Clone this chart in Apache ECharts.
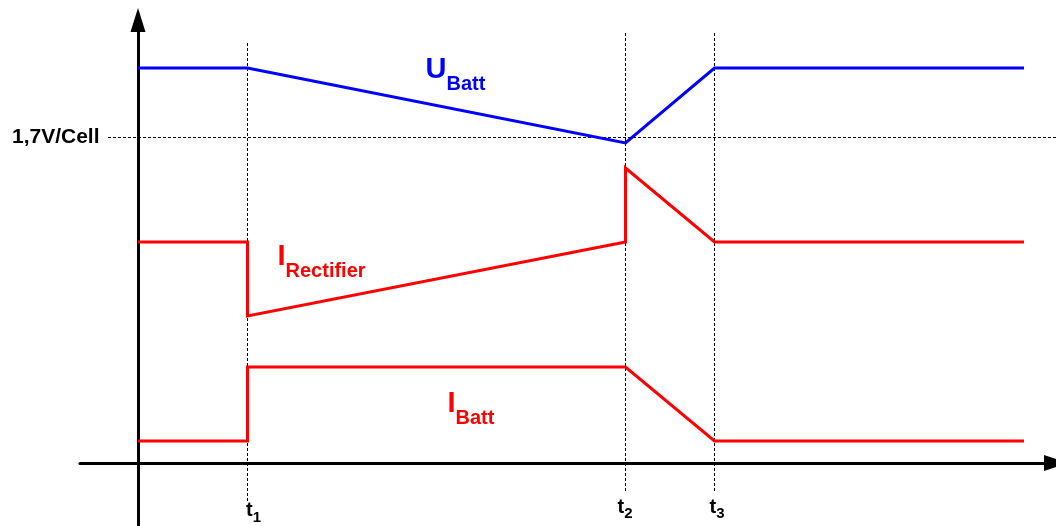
<!DOCTYPE html>
<html>
<head>
<meta charset="utf-8">
<script src="https://cdn.jsdelivr.net/npm/echarts@6/dist/echarts.min.js"></script>
<style>
html, body { margin: 0; padding: 0; background: #fff; }
#container { width: 1056px; height: 526px; }
</style>
</head>
<body>
<div id="container"></div>
<script>
// time marks t1, t2, t3 and the dashed guide lines
var timeMarks = [1.095, 4.875, 5.765];
var markTop = [4.20, 4.30, 4.30];
var markBottom = [-0.39, -0.29, -0.29];
var markNames = ['1', '2', '3'];
var cellLimit = 3.255;
var cellLimitText = '1,7V/Cell';

// curves [time, level]
var uBatt = [[0, 3.95], [1.095, 3.95], [4.875, 3.20], [5.765, 3.95], [8.86, 3.95]];
var iRectifier = [[0, 2.21], [1.095, 2.21], [1.095, 1.47], [4.875, 2.21], [4.875, 2.95], [5.765, 2.21], [8.86, 2.21]];
var iBatt = [[0, 0.22], [1.095, 0.22], [1.095, 0.96], [4.875, 0.96], [5.765, 0.22], [8.86, 0.22]];

var font = 'Liberation Sans, Arial, sans-serif';
var dom = document.getElementById('container');
var myChart = echarts.init(dom, null, { renderer: 'canvas' });

var dashed = { color: '#000', width: 1, type: [3, 2] };
var guideSeries = timeMarks.map(function (t, i) {
  return {
    type: 'line', symbol: 'none', silent: true, z: 1,
    lineStyle: dashed,
    data: [[t, markTop[i]], [t, markBottom[i]]]
  };
});
guideSeries.push({
  type: 'line', symbol: 'none', silent: true, z: 1,
  lineStyle: dashed,
  data: [[-0.30, cellLimit], [9.18, cellLimit]]
});

function curve(data, color) {
  return {
    type: 'line', symbol: 'none', z: 3,
    lineStyle: { color: color, width: 3, join: 'miter' },
    data: data
  };
}

function richFor(color) {
  return {
    big: { color: color, fontFamily: font, fontSize: 29, fontWeight: 'bold', lineHeight: 30 },
    sub: { color: color, fontFamily: font, fontSize: 20, fontWeight: 'bold', lineHeight: 20, padding: [28, 0, 0, 0] },
    tb: { color: color, fontFamily: font, fontSize: 20, fontWeight: 'bold', lineHeight: 20 },
    ts: { color: color, fontFamily: font, fontSize: 15, fontWeight: 'bold', lineHeight: 15, padding: [14, 0, 0, 0] }
  };
}

function textItem(x, y, text, color, align, size) {
  return {
    value: [x, y],
    label: {
      show: true, position: [0, 0], formatter: text, color: color,
      align: align || 'left', verticalAlign: 'middle',
      fontFamily: font, fontSize: size || 20, fontWeight: 'bold',
      textBorderWidth: 0, opacity: 1, rich: richFor(color)
    }
  };
}

var labelItems = [
  textItem(2.88, 3.925, '{big|U}{sub|Batt}', '#0000ff'),
  textItem(1.40, 2.055, '{big|I}{sub|Rectifier}', '#ff0000'),
  textItem(3.10, 0.585, '{big|I}{sub|Batt}', '#ff0000'),
  textItem(1.085, -0.48, '{tb|t}{ts|' + markNames[0] + '}', '#000'),
  textItem(4.80, -0.445, '{tb|t}{ts|' + markNames[1] + '}', '#000'),
  textItem(5.72, -0.445, '{tb|t}{ts|' + markNames[2] + '}', '#000'),
  textItem(-0.38, cellLimit, cellLimitText, '#000', 'right', 21)
];

var axisLine = function (size) {
  return {
    show: true, onZero: true,
    symbol: ['none', 'triangle'], symbolSize: size,
    lineStyle: { color: '#000', width: 3 }
  };
};

var option = {
  animation: false,
  backgroundColor: '#fff',
  grid: { left: 80, right: 0, top: 20, bottom: 0 },
  xAxis: {
    type: 'value', min: -0.58, max: 9.18,
    axisLine: axisLine([16, 24]),
    axisTick: { show: false }, axisLabel: { show: false }, splitLine: { show: false }
  },
  yAxis: {
    type: 'value', min: -0.63, max: 4.43,
    axisLine: axisLine([15, 24]),
    axisTick: { show: false }, axisLabel: { show: false }, splitLine: { show: false }
  },
  series: guideSeries.concat([
    curve(uBatt, '#0000ff'),
    curve(iRectifier, '#ff0000'),
    curve(iBatt, '#ff0000'),
    {
      type: 'scatter', symbolSize: 1, z: 5, silent: true,
      itemStyle: { color: 'transparent', opacity: 1 },
      data: labelItems
    }
  ])
};

if (option && typeof option === 'object') {
  myChart.setOption(option);
}
</script>
</body>
</html>
